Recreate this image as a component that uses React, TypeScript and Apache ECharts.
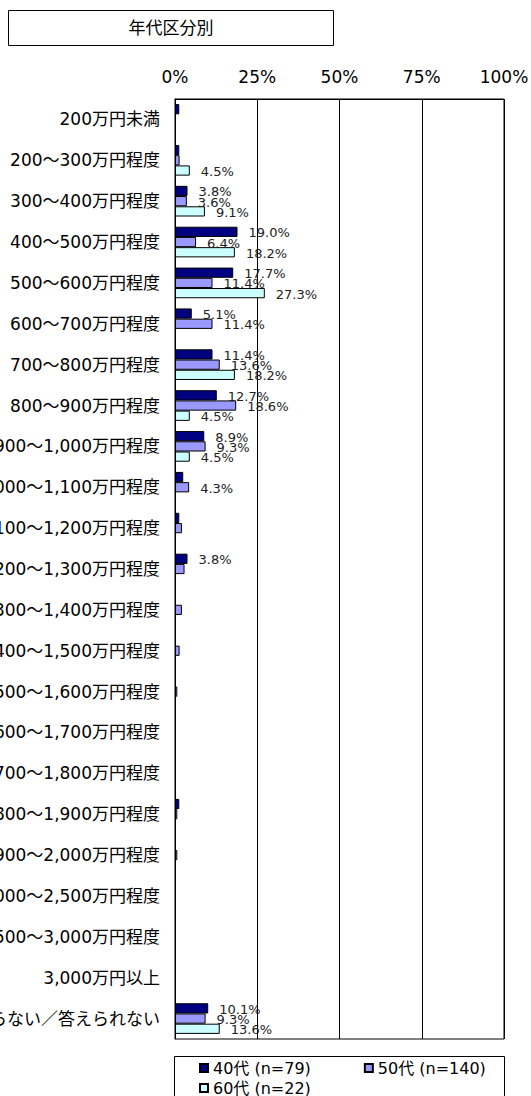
import React, { useEffect, useRef } from "react";
import * as echarts from "echarts";

// Income brackets (annual household income)
const categories: string[] = [
  "200万円未満",
  "200～300万円程度",
  "300～400万円程度",
  "400～500万円程度",
  "500～600万円程度",
  "600～700万円程度",
  "700～800万円程度",
  "800～900万円程度",
  "900～1,000万円程度",
  "1,000～1,100万円程度",
  "1,100～1,200万円程度",
  "1,200～1,300万円程度",
  "1,300～1,400万円程度",
  "1,400～1,500万円程度",
  "1,500～1,600万円程度",
  "1,600～1,700万円程度",
  "1,700～1,800万円程度",
  "1,800～1,900万円程度",
  "1,900～2,000万円程度",
  "2,000～2,500万円程度",
  "2,500～3,000万円程度",
  "3,000万円以上",
  "わからない／答えられない",
];

const seriesNames: string[] = ["40代 (n=79)", "50代 (n=140)", "60代 (n=22)"];

// Share of respondents (%) per bracket
const age40: number[] = [1.3, 1.3, 3.8, 19.0, 17.7, 5.1, 11.4, 12.7, 8.9, 2.5, 1.3, 3.8, 0, 0, 0, 0, 0, 1.3, 0, 0, 0, 0, 10.1];
const age50: number[] = [0, 1.4, 3.6, 6.4, 11.4, 11.4, 13.6, 18.6, 9.3, 4.3, 2.1, 2.9, 2.1, 1.4, 0.7, 0, 0, 0.7, 0.7, 0, 0, 0, 9.3];
const age60: number[] = [0, 4.5, 9.1, 18.2, 27.3, 0, 18.2, 4.5, 4.5, 0, 0, 0, 0, 0, 0, 0, 0, 0, 0, 0, 0, 0, 13.6];

const seriesColors: string[] = ["#000080", "#9999FF", "#CCFFFF"];
const xTicks = { min: 0, max: 100, interval: 25 };

const LABEL_FONT = '"DejaVu Sans", "Noto Sans CJK JP", sans-serif';

export default function App() {
  const ref = useRef<HTMLDivElement>(null);

  useEffect(() => {
    if (!ref.current) return;
    const chart = echarts.init(ref.current, undefined, { renderer: "svg" });

    const values = [age40, age50, age60];

    const series = values.map((vals, i) => ({
      name: seriesNames[i],
      type: "bar",
      data: vals.map((v) => (v === 0 ? null : v)),
      barCategoryGap: "25%",
      barGap: "0%",
      itemStyle: { color: seriesColors[i], borderColor: "#000", borderWidth: 1 },
      label: {
        show: true,
        position: "right",
        distance: 11,
        offset: [0, 1],
        fontSize: 13,
        fontFamily: LABEL_FONT,
        color: "#222",
        formatter: (p: any) => (p.value != null && p.value >= 3 ? `${Number(p.value).toFixed(1)}%` : ""),
      },
    }));

    chart.setOption({
      animation: false,
      backgroundColor: "#fff",
      grid: {
        left: 175,
        top: 99,
        width: 329,
        height: 940,
        outerBoundsMode: "none",
        containLabel: false,
        show: true,
        borderColor: "#000",
        borderWidth: 1,
        backgroundColor: "transparent",
      },
      xAxis: {
        type: "value",
        position: "top",
        min: xTicks.min,
        max: xTicks.max,
        interval: xTicks.interval,
        axisLabel: {
          formatter: "{value}%",
          fontSize: 17,
          fontFamily: LABEL_FONT,
          color: "#000",
          margin: 14,
        },
        splitLine: { show: true, lineStyle: { color: "#000", width: 1 } },
        axisLine: { show: true, lineStyle: { color: "#000" } },
        axisTick: { show: false },
      },
      yAxis: {
        type: "category",
        inverse: true,
        data: categories,
        axisLabel: {
          interval: 0,
          fontSize: 17,
          fontFamily: LABEL_FONT,
          color: "#000",
          margin: 15,
        },
        axisTick: { show: false },
        axisLine: { show: true, lineStyle: { color: "#000" } },
      },
      legend: [
        {
          data: [seriesNames[0], seriesNames[1]],
          left: 199,
          top: 1060,
          padding: 0,
          itemWidth: 8,
          itemHeight: 8,
          itemGap: 53,
          icon: "rect",
          textStyle: { fontSize: 16, fontFamily: LABEL_FONT, color: "#000" },
        },
        {
          data: [seriesNames[2]],
          left: 199,
          top: 1080,
          padding: 0,
          itemWidth: 8,
          itemHeight: 8,
          icon: "rect",
          textStyle: { fontSize: 16, fontFamily: LABEL_FONT, color: "#000" },
        },
      ],
      graphic: [
        {
          type: "rect",
          shape: { x: 8.5, y: 10.5, width: 325, height: 35 },
          style: { fill: "#fff", stroke: "#000", lineWidth: 1 },
        },
        {
          type: "text",
          x: 171,
          y: 28,
          style: {
            text: "年代区分別",
            align: "center",
            verticalAlign: "middle",
            fontSize: 17,
            fontFamily: LABEL_FONT,
            fill: "#000",
          },
        },
        {
          type: "rect",
          shape: { x: 174.5, y: 1056.5, width: 330, height: 60 },
          style: { fill: "none", stroke: "#000", lineWidth: 1 },
        },
      ],
      series,
    });

    return () => chart.dispose();
  }, []);

  return (
    <div
      ref={ref}
      style={{ position: "fixed", left: 0, top: 0, width: 531, height: 1096, background: "#fff" }}
    />
  );
}
